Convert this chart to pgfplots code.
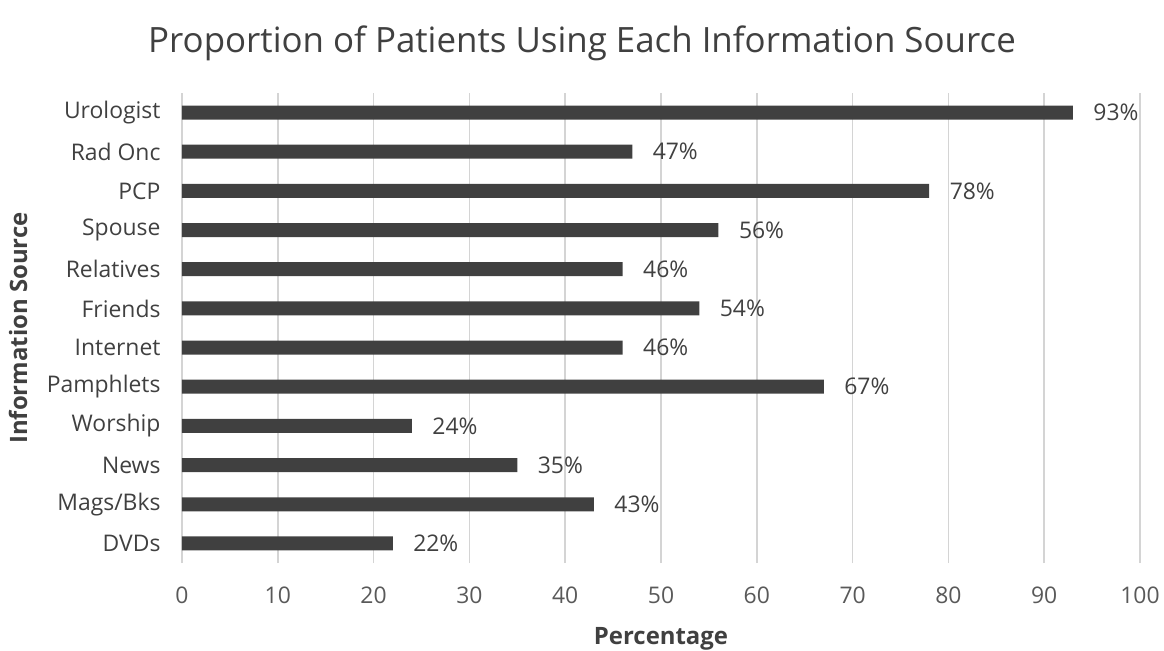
\documentclass[border=0pt]{standalone}
\usepackage{pgfplots}
\pgfplotsset{compat=1.18}
\usepackage{fontspec}
\setmainfont{Open Sans}
\definecolor{barc}{HTML}{404040}
\definecolor{txtc}{HTML}{404040}
\definecolor{tickc}{HTML}{595959}
\definecolor{gridc}{HTML}{D4D4D4}
\begin{document}
\begin{tikzpicture}
\path[use as bounding box] (-182bp,-88bp) rectangle (982bp,563bp);
\begin{axis}[
  at={(0,0)}, anchor=south west,
  scale only axis, width=958bp, height=470bp,
  xbar, bar width=14bp,
  xmin=0, xmax=100, ymin=-0.5, ymax=11.5,
  xtick={0,10,...,100},
  ytick={0,...,11},
  yticklabels={DVDs,Mags/Bks,News,Worship,Pamphlets,Internet,Friends,Relatives,Spouse,PCP\ ,Rad Onc,Urologist},
  /pgf/number format/assume math mode=true,
  major tick length=0pt,
  axis line style={draw=none},
  xmajorgrids=true, ymajorgrids=false,
  major grid style={draw=gridc, line width=1.6bp},
  xticklabel style={font=\fontsize{23}{26}\selectfont, text=tickc, yshift=-20bp},
  yticklabel style={font=\fontsize{23}{26}\selectfont, text=txtc, xshift=-18bp},
  nodes near coords={\pgfmathprintnumber{\pgfplotspointmeta}\%},
  nodes near coords style={anchor=west, xshift=17bp, font=\fontsize{23}{26}\selectfont, text=txtc},
  clip=false,
]
\addplot[fill=barc, draw=none] coordinates {
(22,0) (43,1) (35,2) (24,3) (67,4) (46,5) (54,6) (46,7) (56,8) (78,9) (47,10) (93,11)
};
\end{axis}
\node[font=\fontsize{35}{40}\selectfont, text=txtc] at (400bp,520bp) {Proportion of Patients Using Each Information Source};
\node[font=\bfseries\fontsize{24}{26}\selectfont, text=txtc] at (479bp,-76bp) {Percentage};
\node[font=\bfseries\fontsize{24}{26}\selectfont, text=txtc, rotate=90] at (-164bp,235bp) {Information Source};
\end{tikzpicture}
\end{document}
